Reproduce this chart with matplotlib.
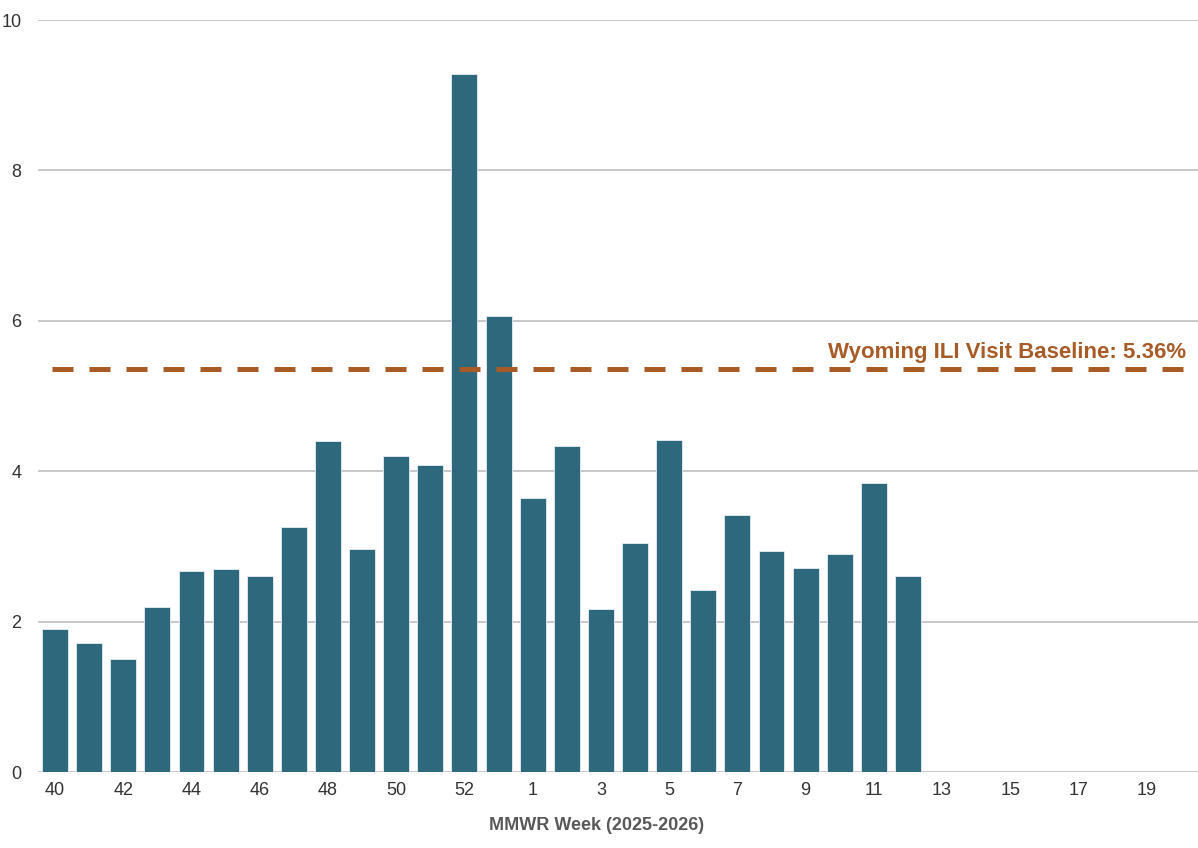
import numpy as np
from matplotlib import pyplot as plt

plt.rcParams['font.family'] = ['Liberation Sans Narrow', 'Liberation Sans', 'DejaVu Sans']

# MMWR weeks 40-53 (2025) and 1-20 (2026)
weeks = [str(w) for w in range(40, 54)] + [str(w) for w in range(1, 21)]
ili_pct = [1.90, 1.72, 1.50, 2.20, 2.67, 2.70, 2.60, 3.26, 4.40, 2.97,
           4.20, 4.08, 9.28, 6.07, 3.65, 4.33, 2.17, 3.05, 4.41, 2.42,
           3.42, 2.94, 2.71, 2.90, 3.84, 2.61]
baseline = 5.36

x = np.arange(len(weeks))
vals = ili_pct + [np.nan] * (len(weeks) - len(ili_pct))

fig = plt.figure(figsize=(11.98, 8.48), dpi=100)
ax = fig.add_axes([0.0317, 0.0896, 0.9683, 0.8868])

ax.bar(x, vals, width=0.76, color='#2E687C', edgecolor='#E6EEF1', linewidth=0.6, zorder=2)
ax.plot([-0.1, len(weeks) - 0.85], [baseline, baseline], color='#A85A27',
        linewidth=3.6, dashes=(4.2, 3.2), zorder=3)
ax.text(len(weeks) - 0.85, baseline + 0.14, 'Wyoming ILI Visit Baseline: %.2f%%' % baseline,
        color='#A85A27', fontsize=16, fontweight='bold', ha='right', va='baseline', zorder=4)

ax.set_xlim(-0.5, len(weeks) - 0.5)
ax.set_ylim(0, 10)
ax.set_yticks(range(0, 11, 2))
ax.set_xticks(x[::2])
ax.set_xticklabels(weeks[::2])
ax.yaxis.grid(True, color='#BFBFBF', linewidth=1.2, zorder=0)
ax.set_axisbelow(True)
for s in ax.spines.values():
    s.set_visible(False)
ax.tick_params(axis='both', length=0, labelsize=13, colors='#333333')
ax.tick_params(axis='y', pad=12)
ax.tick_params(axis='x', pad=7)

fig.text(0.498, 0.017, 'MMWR Week (2025-2026)', ha='center', va='bottom',
         fontsize=13, fontweight='bold', color='#595959')

fig.savefig('out.png', dpi=100)
